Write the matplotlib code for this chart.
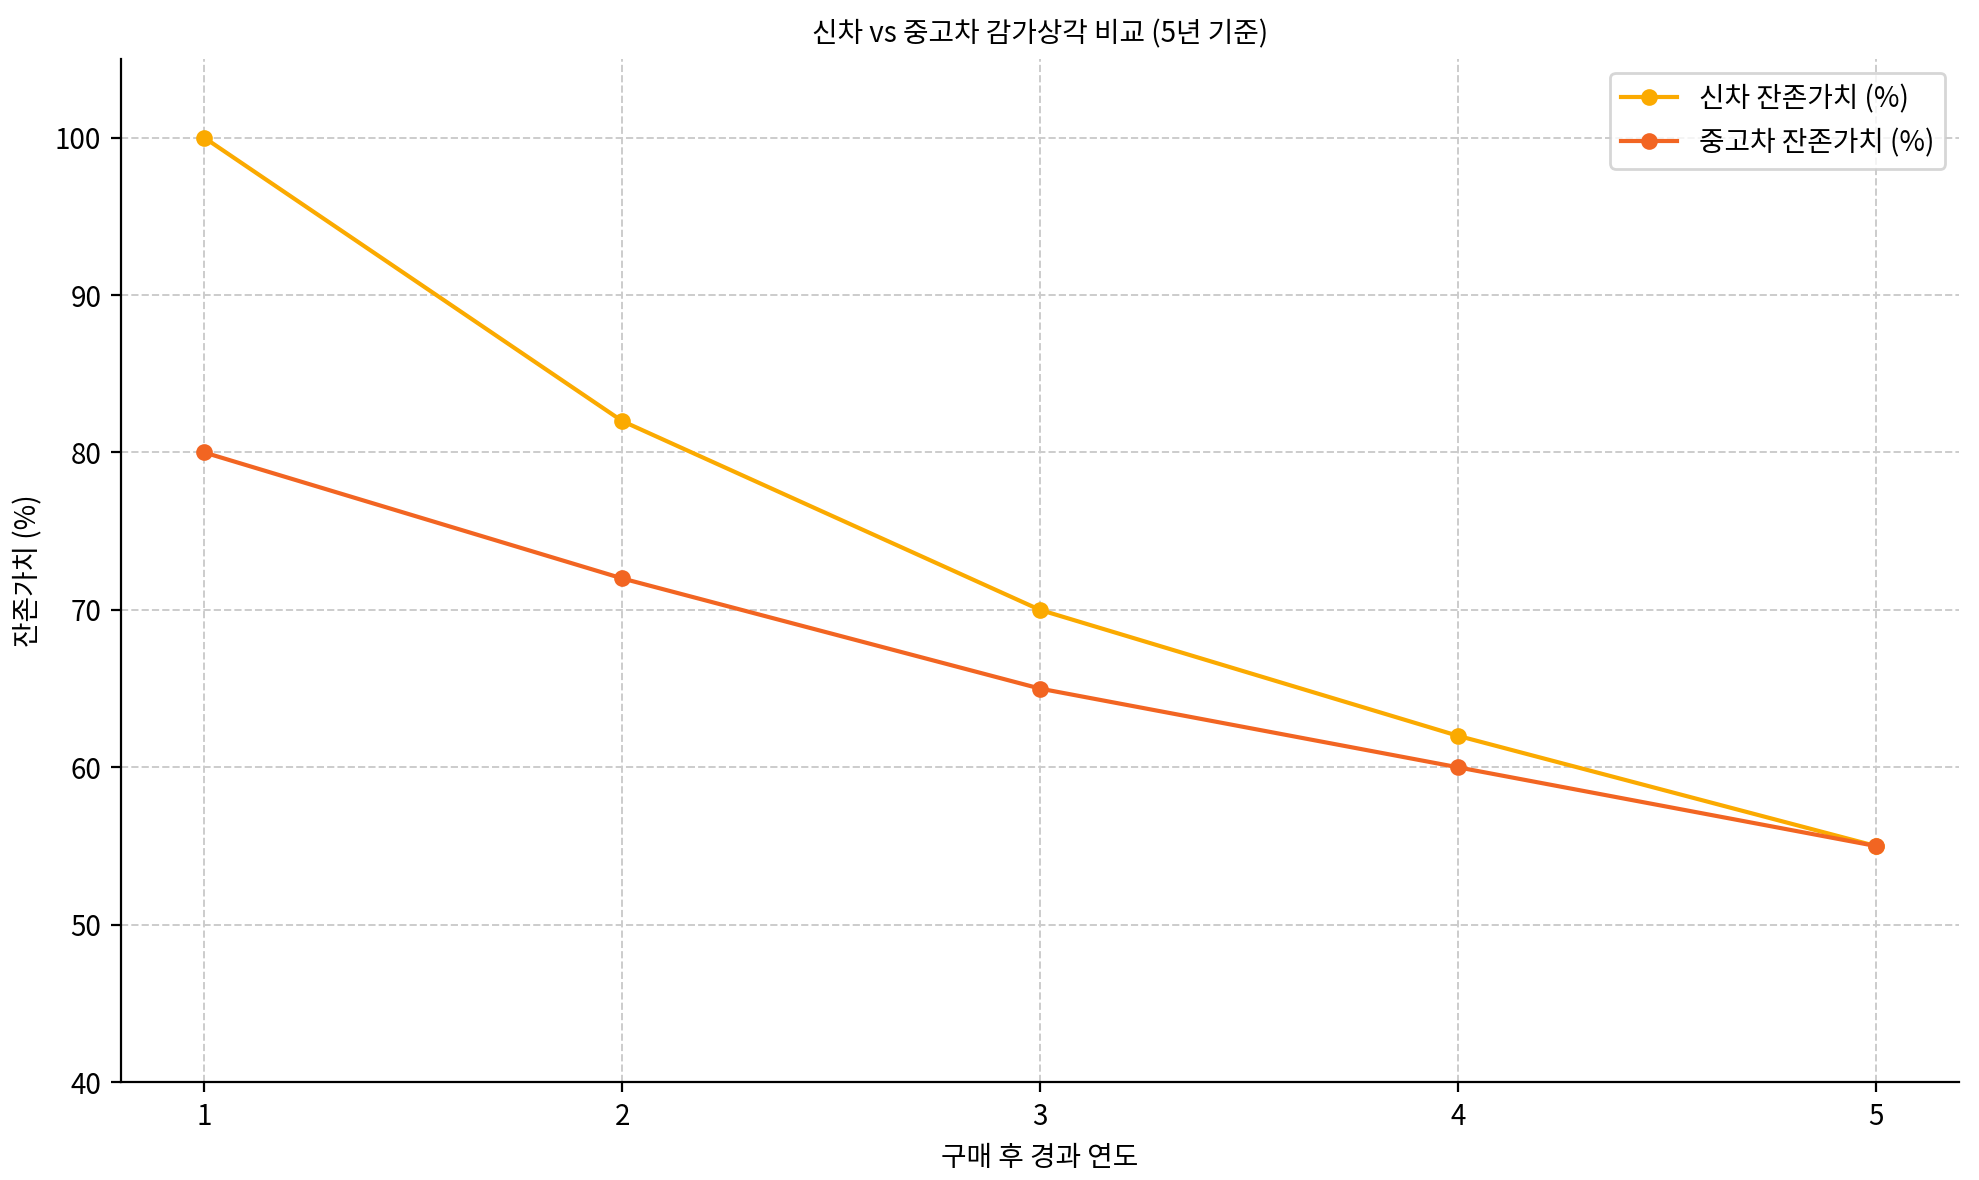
import matplotlib
matplotlib.use("Agg")
import matplotlib.pyplot as plt

plt.rcParams['font.family'] = ['Noto Sans CJK KR', 'DejaVu Sans']

years = [1, 2, 3, 4, 5]
new_car = [100, 82, 70, 62, 55]
used_car = [80, 72, 65, 60, 55]

fig, ax = plt.subplots(figsize=(9.895, 5.9), dpi=200)
fig.subplots_adjust(left=0.061, right=0.99, top=0.95, bottom=0.083)

ax.plot(years, new_car, marker='o', color='#FBAA00', linewidth=1.5, markersize=5, label='신차 잔존가치 (%)')
ax.plot(years, used_car, marker='o', color='#F26522', linewidth=1.5, markersize=5, label='중고차 잔존가치 (%)')

ax.set_ylim(40, 105)
ax.set_xlim(0.8, 5.2)
ax.set_xticks(years)
ax.set_title('신차 vs 중고차 감가상각 비교 (5년 기준)', fontsize=10)
ax.set_xlabel('구매 후 경과 연도', fontsize=10)
ax.set_ylabel('잔존가치 (%)', fontsize=10)
ax.grid(True, linestyle='--', color='#cccccc', linewidth=0.7)
ax.spines['top'].set_visible(False)
ax.spines['right'].set_visible(False)
ax.legend(loc='upper right', fontsize=10)

fig.savefig('out.png', dpi=200)
